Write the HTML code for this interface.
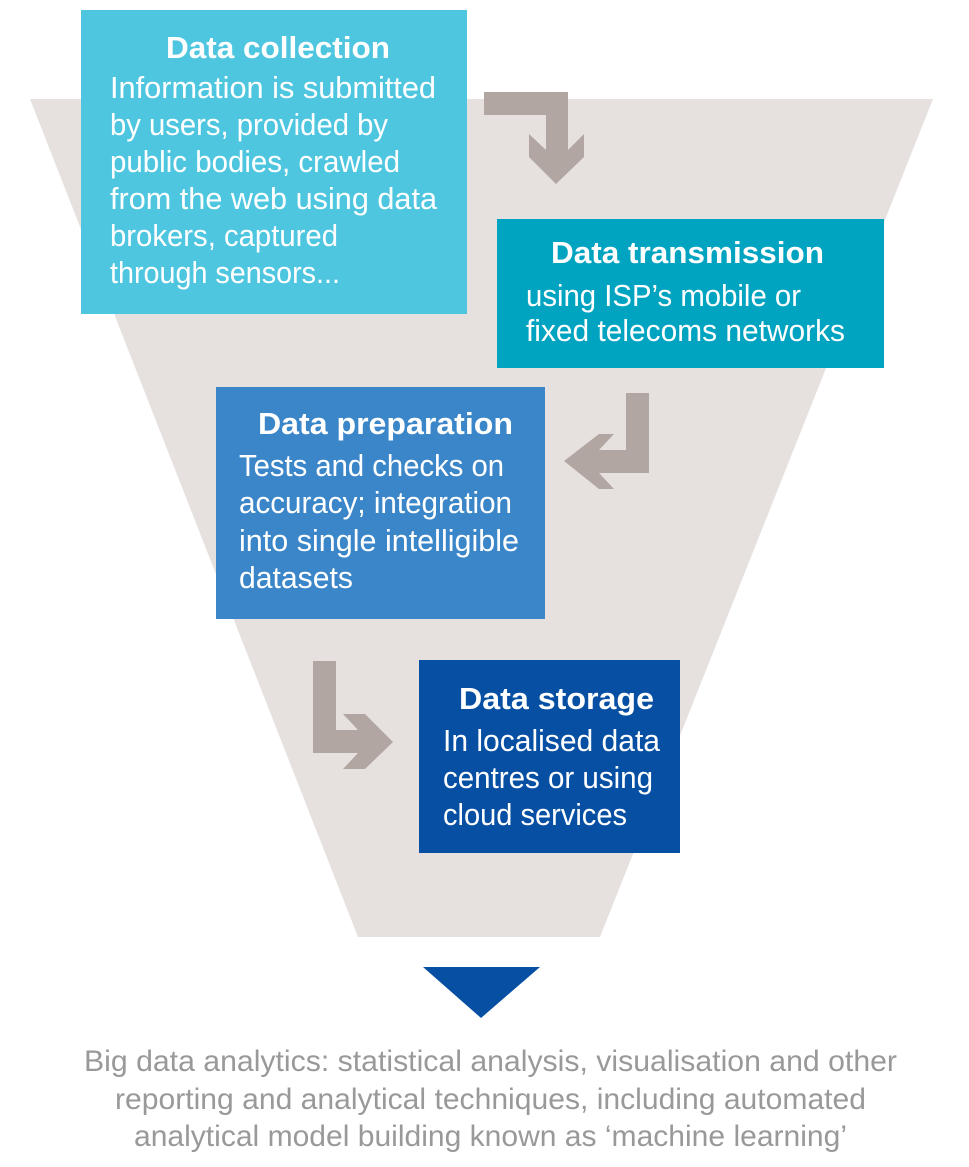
<!DOCTYPE html>
<html><head><meta charset="utf-8"><style>
html,body{margin:0;padding:0;background:#fff;}
svg{display:block;}
text{font-family:"Liberation Sans",sans-serif;}
.h{font-weight:bold;font-size:31px;fill:#fff;}
.b{font-size:31px;fill:#fff;}
.g{font-size:30px;fill:#999;}
</style></head><body>
<svg width="969" height="1167" viewBox="0 0 969 1167" xmlns="http://www.w3.org/2000/svg">
<polygon points="30,99 933,99 600,937 358,937" fill="#e6e1df"/>
<rect x="81" y="10" width="386" height="304" fill="#4fc6e0"/>
<rect x="497" y="219" width="387" height="149" fill="#00a3c0"/>
<rect x="216" y="387" width="329" height="232" fill="#3b86c8"/>
<rect x="419" y="660" width="261" height="193" fill="#074fa3"/>
<polygon points="423,967 540,967 481,1018" fill="#074fa3"/>
<g fill="#b2a6a3">
<polygon points="484,92 568,92 568,150 584,134 584,157 556,184 529,157 529,134 546,150 546,115 484,115"/>
<polygon points="564,461 599,434 614,434 599,450 626,450 626,393 649,393 649,473 599,473 614,489 599,489"/>
<polygon points="313,661 336,661 336,730 358,730 343,714 365,714 393,742 365,769 343,769 358,753 313,753"/>
</g>
<text class="h" x="166" y="58" textLength="224" lengthAdjust="spacingAndGlyphs">Data collection</text>
<text class="b" x="110" y="98" textLength="326" lengthAdjust="spacingAndGlyphs">Information is submitted</text>
<text class="b" x="110" y="135" textLength="278" lengthAdjust="spacingAndGlyphs">by users, provided by</text>
<text class="b" x="110" y="172" textLength="290" lengthAdjust="spacingAndGlyphs">public bodies, crawled</text>
<text class="b" x="110" y="209" textLength="327" lengthAdjust="spacingAndGlyphs">from the web using data</text>
<text class="b" x="110" y="246" textLength="228" lengthAdjust="spacingAndGlyphs">brokers, captured</text>
<text class="b" x="110" y="283" textLength="230" lengthAdjust="spacingAndGlyphs">through sensors...</text>

<text class="h" x="551" y="263" textLength="273" lengthAdjust="spacingAndGlyphs">Data transmission</text>
<text class="b" x="526" y="306" textLength="275" lengthAdjust="spacingAndGlyphs">using ISP’s mobile or</text>
<text class="b" x="526" y="341" textLength="319" lengthAdjust="spacingAndGlyphs">fixed telecoms networks</text>

<text class="h" x="258" y="434" textLength="255" lengthAdjust="spacingAndGlyphs">Data preparation</text>
<text class="b" x="239" y="476" textLength="265" lengthAdjust="spacingAndGlyphs">Tests and checks on</text>
<text class="b" x="239" y="513" textLength="273" lengthAdjust="spacingAndGlyphs">accuracy; integration</text>
<text class="b" x="239" y="551" textLength="280" lengthAdjust="spacingAndGlyphs">into single intelligible</text>
<text class="b" x="239" y="588" textLength="114" lengthAdjust="spacingAndGlyphs">datasets</text>

<text class="h" x="459" y="709" textLength="195" lengthAdjust="spacingAndGlyphs">Data storage</text>
<text class="b" x="443" y="751" textLength="217" lengthAdjust="spacingAndGlyphs">In localised data</text>
<text class="b" x="443" y="788" textLength="210" lengthAdjust="spacingAndGlyphs">centres or using</text>
<text class="b" x="443" y="825" textLength="184" lengthAdjust="spacingAndGlyphs">cloud services</text>

<text class="g" x="84" y="1071" textLength="813" lengthAdjust="spacingAndGlyphs">Big data analytics: statistical analysis, visualisation and other</text>
<text class="g" x="115" y="1109" textLength="751" lengthAdjust="spacingAndGlyphs">reporting and analytical techniques, including automated</text>
<text class="g" x="134" y="1146" textLength="713" lengthAdjust="spacingAndGlyphs">analytical model building known as ‘machine learning’</text>
</svg>
</body></html>
